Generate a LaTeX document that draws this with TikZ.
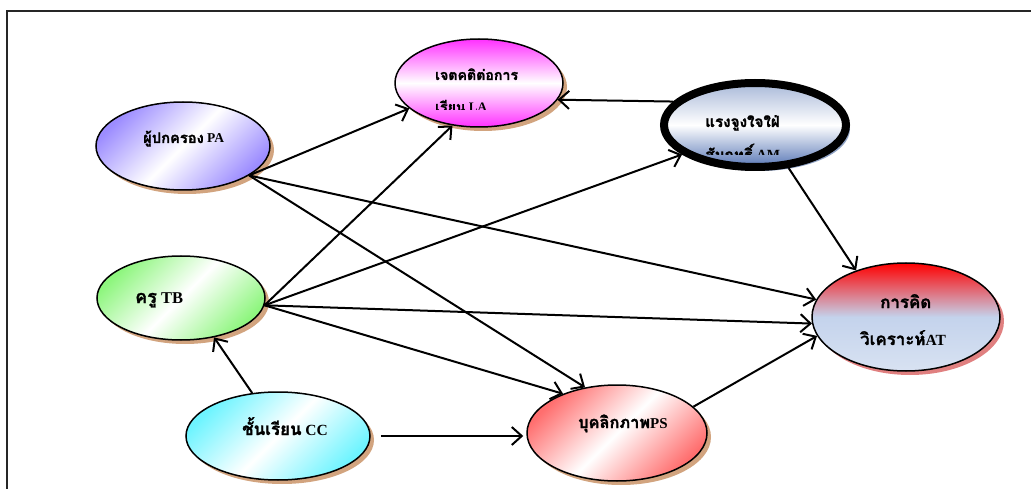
\documentclass[tikz,border=0pt]{standalone}
\usepackage{fontspec}
\setmainfont{Liberation Serif}
\newfontfamily\thaifont[Script=Thai, Scale=1.09, FakeBold=1.5]{Loma}
\usetikzlibrary{shapes.geometric,shadows,arrows.meta}

\newcommand\tha[1]{{\thaifont #1}}

\definecolor{shtan}{HTML}{D2A47F}
\definecolor{shblue}{HTML}{8FA2C4}
\definecolor{shred}{HTML}{E08080}
\definecolor{paC}{HTML}{9C8CFF}
\definecolor{tbC}{HTML}{8EF67E}
\definecolor{ccC}{HTML}{6EF4FF}
\definecolor{psC}{HTML}{FF6E6E}
\definecolor{laC}{HTML}{FF30FF}
\definecolor{amTop}{HTML}{A9B9D9}
\definecolor{amBot}{HTML}{5877B6}
\definecolor{atMid}{HTML}{C4D3EC}
\definecolor{atBot}{HTML}{D8E2F2}

\tikzset{
  bubble/.style={ellipse, draw=black, line width=1.5pt, inner sep=0pt},
  tanshadow/.style={drop shadow={shadow xshift=4pt, shadow yshift=-4pt, fill=shtan, opacity=1}},
  diag/.style={left color=#1, right color=#1, middle color=white, shading angle=45},
  link/.style={line width=2pt, -{Straight Barb[length=10pt,width=18pt]}},
  lbl/.style={anchor=base west, inner sep=0pt},
}

\begin{document}
\begin{tikzpicture}[x=1pt,y=-1pt]
\useasboundingbox (0,0) rectangle (1031,489);

% page frame (top and left rules)
\draw[line width=1.8pt, black!85] (7,489) -- (7,11) -- (1031,11);

% variables
\node[bubble, tanshadow, minimum width=168pt, minimum height=88pt,
      top color=laC, bottom color=laC, middle color=white] (la) at (479,83) {};
\node[ellipse, draw=black, line width=8pt, inner sep=0pt,
      drop shadow={shadow xshift=4pt, shadow yshift=-4pt, fill=shblue, opacity=1},
      minimum width=182pt, minimum height=84pt,
      top color=amTop, bottom color=amBot, middle color=white] (am) at (755,125) {};
\node[bubble, tanshadow, minimum width=174pt, minimum height=88pt, diag=paC] (pa) at (183,146) {};
\node[bubble, tanshadow, minimum width=168pt, minimum height=84pt, diag=tbC] (tb) at (181,298) {};
\node[bubble, tanshadow, minimum width=184pt, minimum height=88pt, diag=ccC] (cc) at (278,436) {};
\node[bubble, tanshadow, minimum width=180pt, minimum height=96pt, diag=psC] (ps) at (617,433) {};
\node[bubble, drop shadow={shadow xshift=4pt, shadow yshift=-4pt, fill=shred, opacity=1},
      minimum width=188pt, minimum height=108pt,
      top color=red, bottom color=atBot, middle color=atMid] (at) at (906,317) {};

% labels
\node[lbl, font=\bfseries\fontsize{13}{15}\selectfont] (la1) at (435,80) {\tha{เจตคติต่อการ}};
\begin{scope}
  \clip (420,94) rectangle (530,110);
  \node[lbl, font=\bfseries\fontsize{13}{15}\selectfont] (la2) at (435,112) {\tha{เรียน} LA};
\end{scope}
\node[lbl, font=\bfseries\fontsize{14}{17}\selectfont] (am1) at (705,127) {\tha{แรงจูงใจใฝ่}};
\begin{scope}
  \clip (690,138) rectangle (800,155);
  \node[lbl, font=\bfseries\fontsize{14}{17}\selectfont] (am2) at (705,160) {\tha{สัมฤทธิ์} AM};
\end{scope}
\node[lbl, font=\bfseries\fontsize{13.5}{15}\selectfont] (pa-t) at (143,143) {\tha{ผู้ปกครอง} PA};
\node[lbl, font=\bfseries\fontsize{16.5}{18}\selectfont] (tb-t) at (135,303) {\tha{ครู} TB};
\node[lbl, font=\bfseries\fontsize{15.5}{18}\selectfont] (cc-t) at (242,435) {\tha{ชั้นเรียน} CC};
\node[lbl, font=\bfseries\fontsize{15}{17}\selectfont] (ps-t) at (578,428) {\tha{บุคลิกภาพ}PS};
\node[lbl, font=\bfseries\fontsize{15.5}{17}\selectfont] (at1) at (880,308) {\tha{การคิด}};
\node[lbl, font=\bfseries\fontsize{15.5}{17}\selectfont] (at2) at (860,345) {\tha{วิเคราะห์}AT};

% paths
\draw[link] (am.164) -- (la.-12);
\draw[link] (am.-52) -- (at.137);
\draw[link] (pa.-24) -- (la.-160);
\draw[link] (pa.-24) -- (ps.125);
\draw[link] (pa.-24) -- (at.169);
\draw[link] (tb.-5) -- (la.-122);
\draw[link] (tb.-5) -- (am.-158);
\draw[link] (tb.-5) -- (at.-176);
\draw[link] (tb.-5) -- (ps.144);
\draw[link] (cc.121) -- (tb.-50);
\draw[link, shorten <=10pt, shorten >=3pt] (cc.east) -- (cc.east -| ps.west);
\draw[link] (ps.19) -- (at.-168);
\end{tikzpicture}
\end{document}
